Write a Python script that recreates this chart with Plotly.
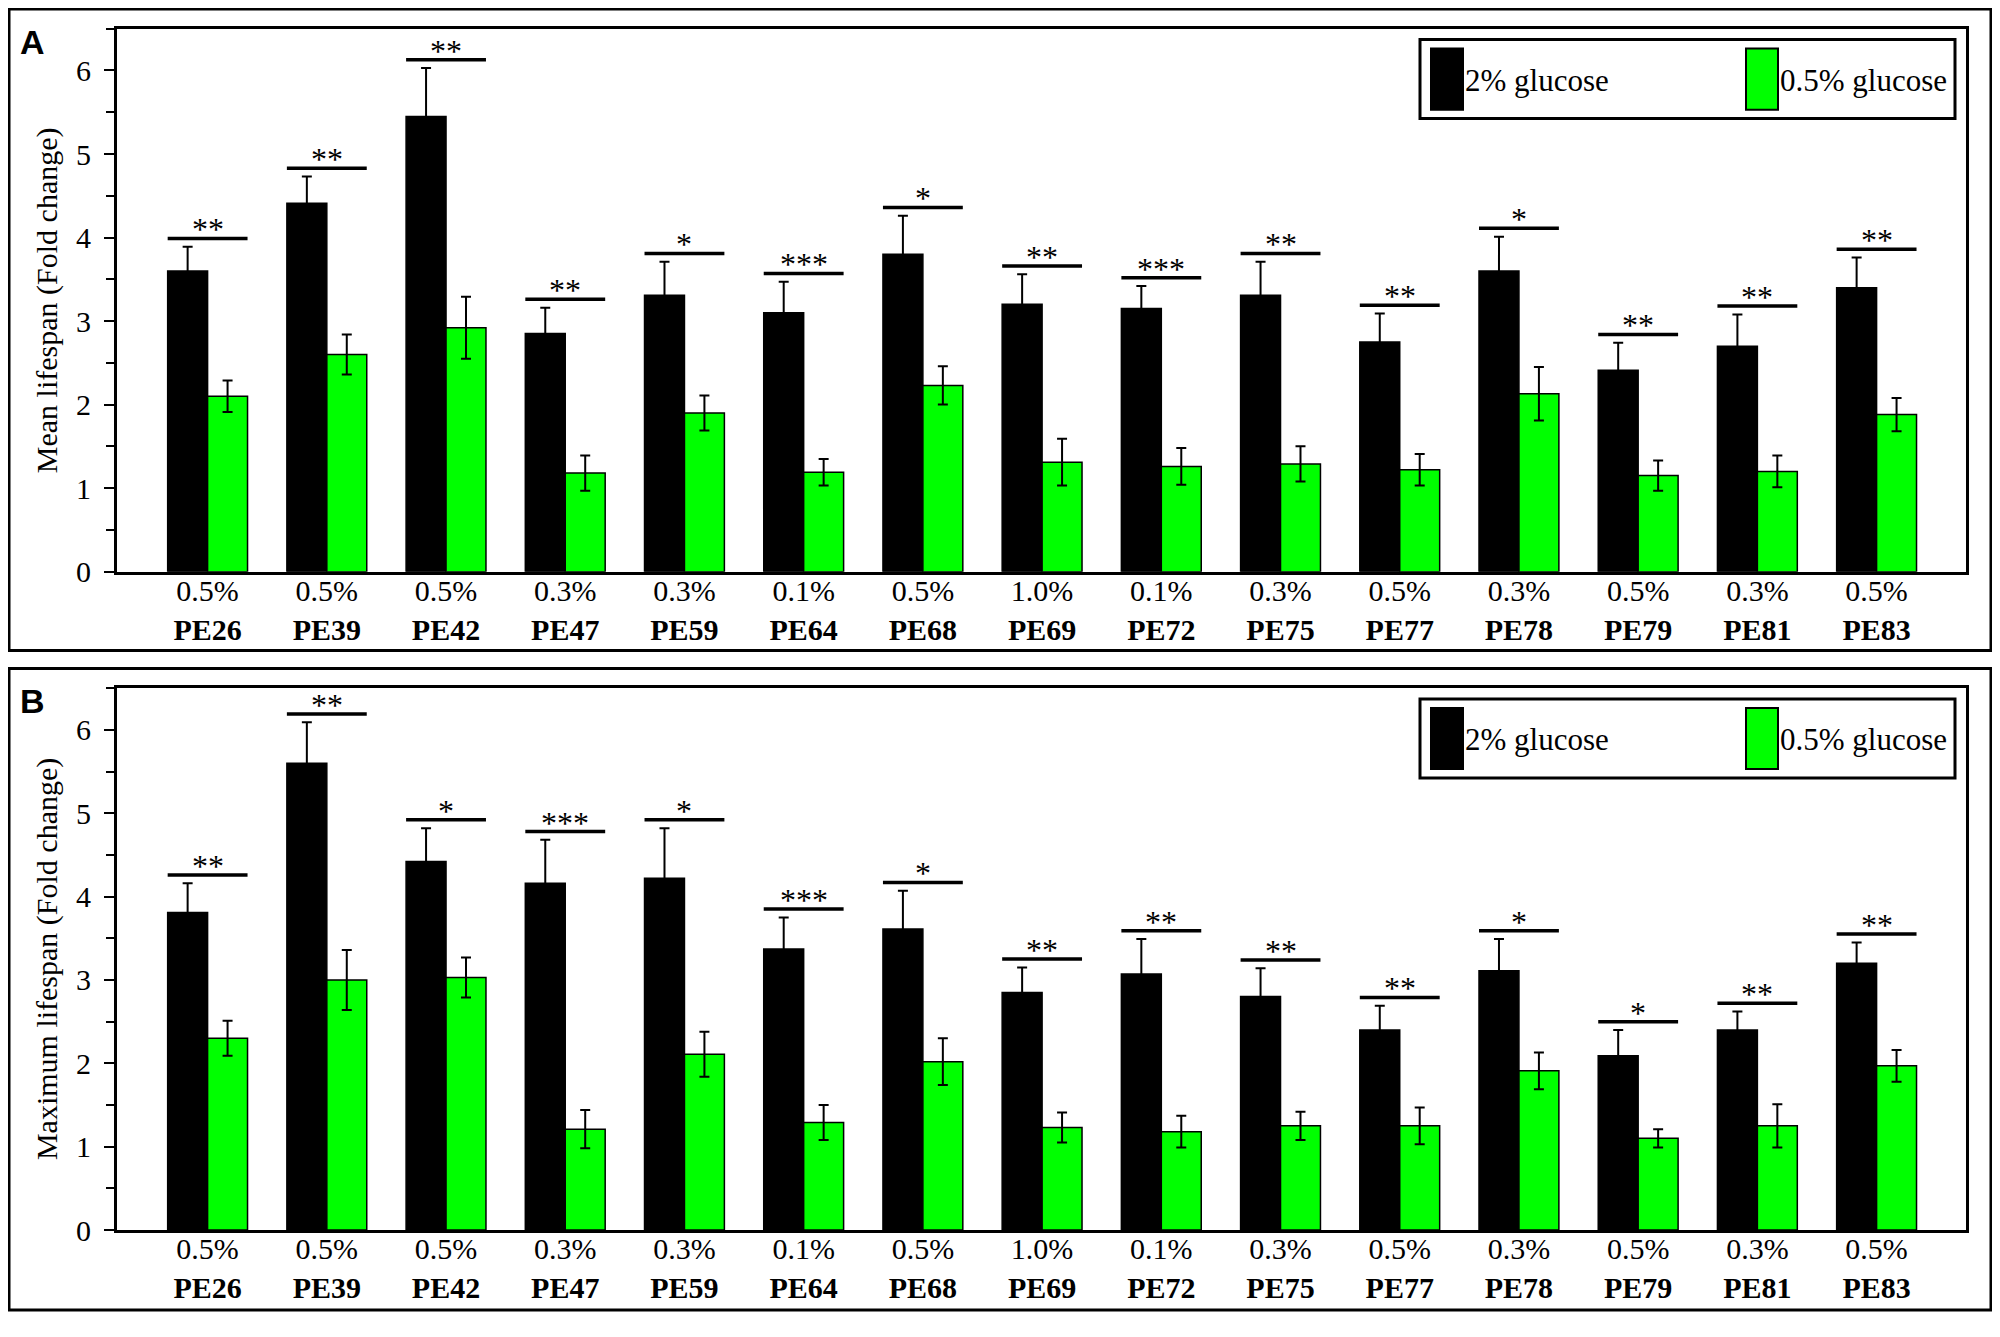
import plotly.graph_objects as go

strains = ["PE26", "PE39", "PE42", "PE47", "PE59", "PE64", "PE68", "PE69",
           "PE72", "PE75", "PE77", "PE78", "PE79", "PE81", "PE83"]
doses = ["0.5%", "0.5%", "0.5%", "0.3%", "0.3%", "0.1%", "0.5%", "1.0%",
         "0.1%", "0.3%", "0.5%", "0.3%", "0.5%", "0.3%", "0.5%"]

# panel A - mean lifespan
mean_hi = [3.60, 4.41, 5.45, 2.85, 3.31, 3.10, 3.80, 3.20, 3.15, 3.31, 2.75, 3.60, 2.41, 2.70, 3.40]
mean_hi_err = [0.29, 0.32, 0.58, 0.31, 0.40, 0.37, 0.46, 0.36, 0.27, 0.40, 0.34, 0.41, 0.33, 0.38, 0.36]
mean_lo = [2.10, 2.60, 2.92, 1.18, 1.90, 1.19, 2.23, 1.31, 1.26, 1.29, 1.22, 2.13, 1.15, 1.20, 1.88]
mean_lo_err = [0.19, 0.24, 0.37, 0.21, 0.21, 0.16, 0.23, 0.28, 0.22, 0.21, 0.19, 0.32, 0.18, 0.19, 0.20]
mean_sig = ["**", "**", "**", "**", "*", "***", "*", "**", "***", "**", "**", "*", "**", "**", "**"]

# panel B - maximum lifespan
max_hi = [3.81, 5.60, 4.42, 4.16, 4.22, 3.37, 3.61, 2.85, 3.07, 2.80, 2.40, 3.11, 2.09, 2.40, 3.20]
max_hi_err = [0.35, 0.49, 0.40, 0.52, 0.60, 0.38, 0.46, 0.30, 0.42, 0.34, 0.29, 0.38, 0.31, 0.22, 0.25]
max_lo = [2.30, 3.00, 3.03, 1.21, 2.11, 1.29, 2.02, 1.23, 1.18, 1.25, 1.25, 1.91, 1.10, 1.25, 1.97]
max_lo_err = [0.21, 0.36, 0.24, 0.23, 0.27, 0.21, 0.28, 0.18, 0.19, 0.17, 0.22, 0.22, 0.11, 0.26, 0.19]
max_sig = ["**", "**", "*", "***", "*", "***", "*", "**", "**", "**", "**", "*", "*", "**", "**"]

# the page body has an 8px margin, so the figure is shrunk to fit the
# 2000x1337 window; positions below are given in page pixels
M = 8
W, H = 2000 - M, 1337 - 2 * M
GREEN = "#00ff00"
SERIF = "Liberation Serif, Times New Roman, serif"


def px(x):
    return (x - M) / W


def py(y):
    return 1 - (y - M) / H


fig = go.Figure()

panels = [
    ("A", mean_hi, mean_hi_err, mean_lo, mean_lo_err, mean_sig, "Mean lifespan (Fold change)", 9, 29, 579),
    ("B", max_hi, max_hi_err, max_lo, max_lo_err, max_sig, "Maximum lifespan (Fold change)", 677, 697, 1246),
]

ticktext = [f"{d}<br><b>{s}</b>" for d, s in zip(doses, strains)]
shapes = []
annotations = []

for k, (lab, hi, hi_e, lo, lo_e, sig, ytitle, box_top, top, bottom) in enumerate(panels):
    n = "" if k == 0 else str(k + 1)
    xa, ya = "x" + n, "y" + n
    fig.add_bar(x=strains, y=hi, name="2% glucose", xaxis=xa, yaxis=ya,
                marker=dict(color="black", line=dict(color="black", width=1.5)),
                error_y=dict(type="data", array=hi_e, color="black", thickness=2, width=5),
                showlegend=False)
    fig.add_bar(x=strains, y=lo, name="0.5% glucose", xaxis=xa, yaxis=ya,
                marker=dict(color=GREEN, line=dict(color="black", width=1.5)),
                error_y=dict(type="data", array=lo_e, color="black", thickness=2, width=5),
                showlegend=False)

    axis_common = dict(showline=True, linewidth=3, linecolor="black", mirror=True)
    fig.layout["xaxis" + n] = dict(
        domain=[px(117), px(1966)], anchor=ya, range=[-0.76, 14.75],
        tickmode="array", tickvals=strains, ticktext=ticktext, ticks="",
        tickfont=dict(family=SERIF, size=30, color="black"), ticklabelstandoff=-10,
        showgrid=False, **axis_common)
    fig.layout["yaxis" + n] = dict(
        domain=[py(bottom), py(top)], anchor=xa, range=[0, 6.5], dtick=1,
        ticks="outside", ticklen=10, tickwidth=2, tickcolor="black",
        minor=dict(dtick=0.5, ticks="outside", ticklen=8, tickwidth=2, tickcolor="black"),
        tickfont=dict(family=SERIF, size=30, color="black"), ticklabelstandoff=7,
        showgrid=False, zeroline=False, **axis_common)

    # significance brackets over each pair
    for i, (h, e, s) in enumerate(zip(hi, hi_e, sig)):
        yb = h + e + 0.1
        shapes.append(dict(type="line", xref=xa, yref=ya, x0=i - 0.335, x1=i + 0.335,
                           y0=yb, y1=yb, line=dict(color="black", width=3.5)))
        annotations.append(dict(xref=xa, yref=ya, x=i, y=yb, text=s, showarrow=False,
                                yanchor="bottom", yshift=-11,
                                font=dict(family=SERIF, size=32, color="black")))

    # y title
    annotations.append(dict(xref="paper", yref="paper", x=px(47), y=py((top + bottom) / 2),
                            text=ytitle, textangle=-90, showarrow=False,
                            xanchor="center", yanchor="middle",
                            font=dict(family=SERIF, size=30, color="black")))
    # panel letter
    annotations.append(dict(xref="paper", yref="paper", x=px(18), y=py(box_top + 12),
                            text=f"<b>{lab}</b>", showarrow=False,
                            xanchor="left", yanchor="top",
                            font=dict(family="Liberation Sans, Arial, sans-serif", size=34, color="black")))
    # outer frame
    shapes.append(dict(type="rect", xref="paper", yref="paper", x0=px(9), x1=px(1991),
                       y0=py(box_top + 650), y1=py(box_top), line=dict(color="black", width=3)))

    # legend box
    off = top - 29
    shapes.append(dict(type="rect", xref="paper", yref="paper", x0=px(1420), x1=px(1955),
                       y0=py(off + 120), y1=py(off + 40), fillcolor="white",
                       line=dict(color="black", width=3)))
    for sx, col, txt in [(1431, "black", "2% glucose"), (1746, GREEN, "0.5% glucose")]:
        shapes.append(dict(type="rect", xref="paper", yref="paper", x0=px(sx), x1=px(sx + 32),
                           y0=py(off + 111), y1=py(off + 49), fillcolor=col,
                           line=dict(color="black", width=2)))
        annotations.append(dict(xref="paper", yref="paper", x=px(sx + 32), y=py(off + 81),
                                text=txt, showarrow=False, xanchor="left", yanchor="middle",
                                font=dict(family=SERIF, size=31, color="black")))

fig.update_layout(
    width=W, height=H,
    margin=dict(l=0, r=0, t=0, b=0),
    paper_bgcolor="white", plot_bgcolor="white",
    barmode="group", bargap=0.33, bargroupgap=0,
    shapes=shapes, annotations=annotations,
)

fig.write_html("out.html")
